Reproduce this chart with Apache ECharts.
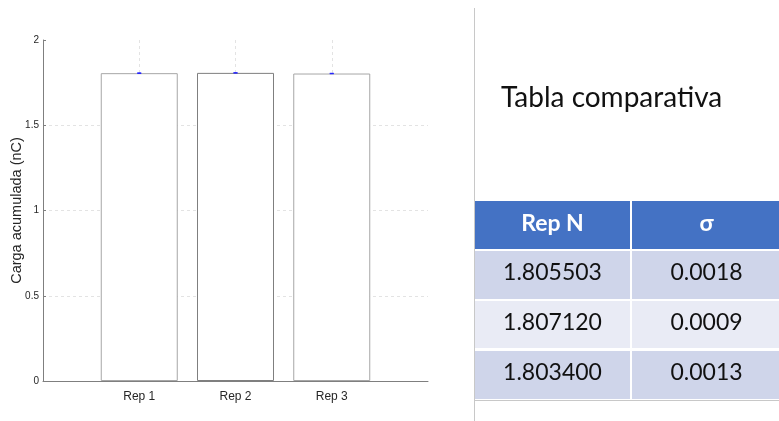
<!DOCTYPE html>
<html><head><meta charset="utf-8">
<script src="https://cdn.jsdelivr.net/npm/echarts@6/dist/echarts.min.js"></script>
<style>html,body{margin:0;padding:0;background:#fff}#c{width:779px;height:421px}</style>
</head><body><div id="c"></div>
<script>
var categories = ['Rep 1', 'Rep 2', 'Rep 3'];
var means = [1.805503, 1.807120, 1.803400];
var sigmas = [0.0018, 0.0009, 0.0013];
var yTicks = [0, 0.5, 1, 1.5, 2];
var tableTitle = 'Tabla comparativa';
var tableHeader = ['Rep N', 'σ'];
var tableRepN = ['1.805503', '1.807120', '1.803400'];
var tableSigma = ['0.0018', '0.0009', '0.0013'];

var chart = echarts.init(document.getElementById('c'), null, {renderer: 'canvas'});
var barData = means.map(function (v, i) { return [i + 1, v]; });
var errData = means.map(function (v, i) { return [i + 1, v - sigmas[i], v + sigmas[i]]; });
var borderColors = ['#a6a6a6', '#7f7f7f', '#a6a6a6'];

// table graphics
var g = [];
g.push({type: 'line', shape: {x1: 474.5, y1: 8, x2: 474.5, y2: 421}, style: {stroke: '#c8c8c8', lineWidth: 1}});
g.push({type: 'text', x: 501, y: 98, style: {text: tableTitle, font: '28px Lato, "Open Sans", sans-serif', fill: '#111', textVerticalAlign: 'middle'}});
var colX = [475, 632], colW = [155, 147];
var rowY = [201, 251, 301, 351], rowH = [48, 48, 47, 48];
var rowFill = ['#4472c4', '#cfd5ea', '#e9ebf5', '#cfd5ea'];
for (var r = 0; r < 4; r++) {
  for (var c = 0; c < 2; c++) {
    g.push({type: 'rect', shape: {x: colX[c], y: rowY[r], width: colW[c], height: rowH[r]}, style: {fill: rowFill[r]}});
    var txt = r === 0 ? tableHeader[c] : (c === 0 ? tableRepN[r - 1] : tableSigma[r - 1]);
    g.push({type: 'text', x: colX[c] + colW[c] / 2 + (c === 0 ? 0 : 1), y: rowY[r] + rowH[r] / 2 - (r === 0 ? 1 : 2),
      style: {text: txt, fill: r === 0 ? '#ffffff' : '#111',
        font: (r === 0 ? 'bold ' : '') + '23px Lato, "Open Sans", sans-serif',
        textAlign: 'center', textVerticalAlign: 'middle'}});
  }
}
g.push({type: 'line', shape: {x1: 475, y1: 400.5, x2: 779, y2: 400.5}, style: {stroke: '#c8c8c8', lineWidth: 1}});

chart.setOption({
  animation: false,
  backgroundColor: '#ffffff',
  grid: {left: 43, right: 351, top: 40, bottom: 40},
  xAxis: {
    type: 'value', min: 0, max: 4, interval: 1,
    axisLine: {show: true, onZero: false, lineStyle: {color: '#7f7f7f', width: 1}},
    axisTick: {show: false},
    axisLabel: {color: '#262626', fontSize: 12, fontFamily: 'Liberation Sans, Arial, sans-serif', margin: 10,
      formatter: function (v) { return categories[v - 1] || ''; }},
    splitLine: {show: true, showMinLine: false, showMaxLine: false, lineStyle: {color: '#e3e3e3', type: [3, 3]}}
  },
  yAxis: {
    type: 'value', min: 0, max: 2, interval: 0.5,
    name: 'Carga acumulada (nC)', nameLocation: 'middle', nameGap: 19, nameMoveOverlap: false,
    nameTextStyle: {color: '#262626', fontSize: 14.5, fontFamily: 'Liberation Sans, Arial, sans-serif'},
    axisLine: {show: true, lineStyle: {color: '#7f7f7f', width: 1}},
    axisTick: {show: true, inside: true, length: 3, lineStyle: {color: '#7f7f7f'}},
    axisLabel: {color: '#262626', fontSize: 10, fontFamily: 'Liberation Sans, Arial, sans-serif', margin: 4,
      formatter: function (v) { return yTicks.indexOf(v) >= 0 ? String(v) : ''; }},
    splitLine: {show: true, showMinLine: false, showMaxLine: false, lineStyle: {color: '#e3e3e3', type: [3, 3]}}
  },
  series: [
    {
      type: 'bar', data: barData.map(function (d, i) { return {value: d, itemStyle: {borderColor: borderColors[i]}}; }),
      barWidth: 77,
      itemStyle: {color: '#ffffff', borderColor: '#a6a6a6', borderWidth: 1},
      emphasis: {disabled: true}
    },
    {
      type: 'custom', data: errData, z: 5,
      renderItem: function (params, api) {
        var x = api.value(0), lo = api.value(1), hi = api.value(2);
        var pLo = api.coord([x, lo]), pHi = api.coord([x, hi]);
        var cap = 2;
        return {type: 'group', children: [
          {type: 'line', shape: {x1: pLo[0], y1: pLo[1], x2: pHi[0], y2: pHi[1]}, style: {stroke: '#2020ff', lineWidth: 1}},
          {type: 'line', shape: {x1: pLo[0] - cap, y1: pLo[1], x2: pLo[0] + cap, y2: pLo[1]}, style: {stroke: '#2020ff', lineWidth: 1}},
          {type: 'line', shape: {x1: pHi[0] - cap, y1: pHi[1], x2: pHi[0] + cap, y2: pHi[1]}, style: {stroke: '#2020ff', lineWidth: 1}}
        ]};
      }
    }
  ],
  graphic: g
});
</script>
</body></html>
